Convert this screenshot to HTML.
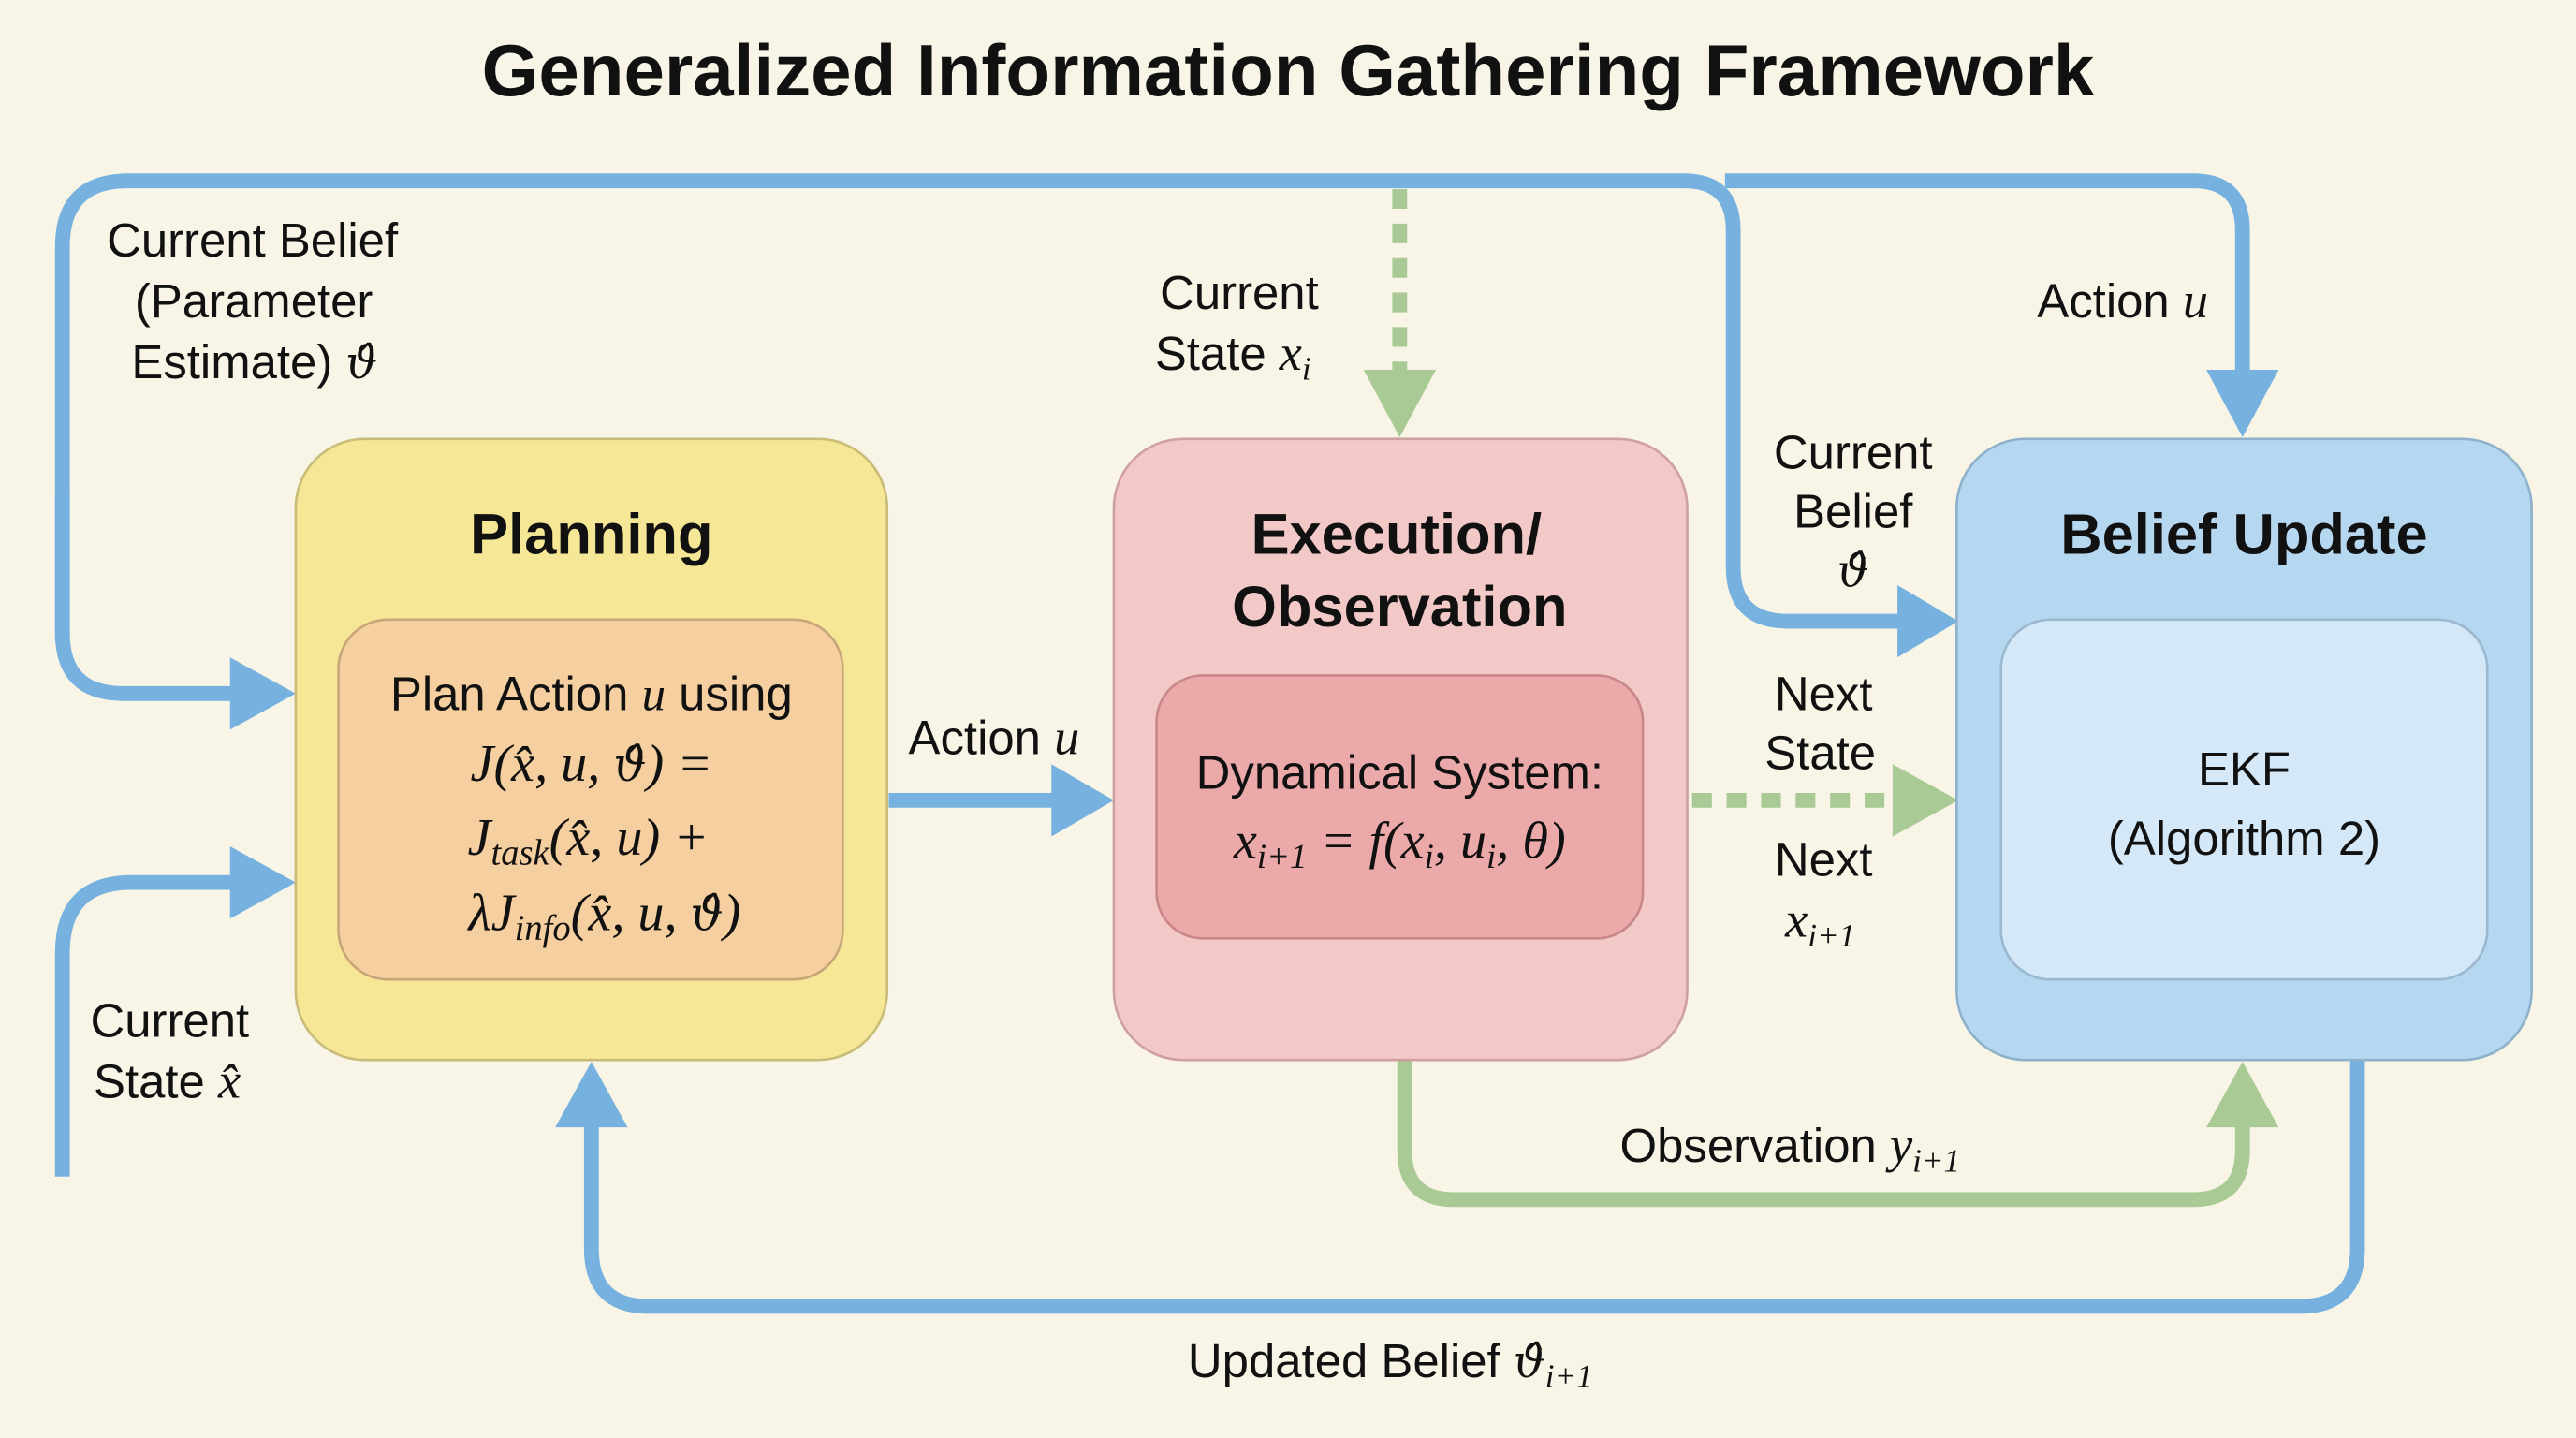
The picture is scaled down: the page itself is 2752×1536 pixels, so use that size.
<!DOCTYPE html>
<html><head><meta charset="utf-8"><style>
html,body{margin:0;padding:0;background:#f8f5e7;}
svg{display:block}
text{font-family:"Liberation Sans",sans-serif;fill:#111}
.m{font-family:"Liberation Serif",serif;font-style:italic}
.t{font-family:"DejaVu Serif",serif;font-style:italic}
</style></head><body>
<svg width="2752" height="1536" viewBox="0 0 1568 875" xmlns="http://www.w3.org/2000/svg">
<rect width="1568" height="875" fill="#f8f5e7"/>
<text x="784" y="58" text-anchor="middle" font-size="44.5" font-weight="bold">Generalized Information Gathering Framework</text>

<g fill="none" stroke="#76b1df" stroke-width="9" stroke-linecap="butt">
<path d="M38 390 V150 Q38 110 78 110 H1025 Q1055 110 1055 140 V345 Q1055 378 1088 378 H1160"/>
<path d="M1050 110 H1335 Q1365 110 1365 140 V230"/>
<path d="M38 300 V385 Q38 422 75 422 H145"/>
<path d="M38 716 V580 Q38 537 80 537 H145"/>
<path d="M541 487 H645"/>
<path d="M1435 645 V760 Q1435 795 1400 795 H395 Q360 795 360 760 V680"/>
</g>
<g fill="#76b1df">
<polygon points="140,400 180,422 140,444"/>
<polygon points="140,515 180,537 140,559"/>
<polygon points="640,465 678,487 640,509"/>
<polygon points="1155,356 1192,378 1155,400"/>
<polygon points="1343,225 1365,266 1387,225"/>
<polygon points="338,686 360,646 382,686"/>
</g>
<g fill="none" stroke="#a9c995" stroke-width="9">
<path d="M855 645 V700 Q855 730 885 730 H1335 Q1365 730 1365 700 V680"/>
<path d="M852 115 V230" stroke-dasharray="12 9"/>
<path d="M1030 487 H1160" stroke-dasharray="12 9"/>
</g>
<g fill="#a9c995">
<polygon points="1343,686 1365,646 1387,686"/>
<polygon points="830,225 852,266 874,225"/>
<polygon points="1152,465 1192,487 1152,509"/>
</g>

<rect x="180" y="267" width="360" height="378" rx="42" fill="#f5e795" stroke="#c9bc78" stroke-width="1.5"/>
<rect x="206" y="377" width="307" height="219" rx="30" fill="#f5cf9f" stroke="#c9a57a" stroke-width="1.5"/>
<rect x="678" y="267" width="349" height="378" rx="42" fill="#f3c9c8" stroke="#cfa0a0" stroke-width="1.5"/>
<rect x="704" y="411" width="296" height="160" rx="28" fill="#eba9a9" stroke="#c98787" stroke-width="1.5"/>
<rect x="1191" y="267" width="350" height="378" rx="42" fill="#b6d7f0" stroke="#8fb2cc" stroke-width="1.5"/>
<rect x="1218" y="377" width="296" height="219" rx="30" fill="#d4e8f7" stroke="#9ab8cf" stroke-width="1.5"/>

<g font-size="35" font-weight="bold" text-anchor="middle">
<text x="360" y="337">Planning</text>
<text x="850" y="337">Execution/</text>
<text x="852" y="381">Observation</text>
<text x="1366" y="337">Belief Update</text>
</g>
<g font-size="29" text-anchor="middle">
<text x="360" y="432">Plan Action <tspan class="m">u</tspan> using</text>
<text x="360" y="475" class="m" font-size="32">J(x̂, u, <tspan class="t" font-size="28">ϑ̂</tspan>) =</text>
<text x="358" y="520" class="m" font-size="32">J<tspan font-size="22" dy="6">task</tspan><tspan dy="-6">(x̂, u) +</tspan></text>
<text x="368" y="566" class="m" font-size="32">λJ<tspan font-size="22" dy="6">info</tspan><tspan dy="-6">(x̂, u, </tspan><tspan class="t" font-size="28">ϑ̂</tspan>)</text>
<text x="852" y="480">Dynamical System:</text>
<text x="852" y="522" class="m" font-size="32">x<tspan font-size="21" dy="6">i+1</tspan><tspan dy="-6"> = f(x</tspan><tspan font-size="21" dy="6">i</tspan><tspan dy="-6">, u</tspan><tspan font-size="21" dy="6">i</tspan><tspan dy="-6">, θ)</tspan></text>
<text x="1366" y="478">EKF</text>
<text x="1366" y="520">(Algorithm 2)</text>
</g>
<g font-size="29">
<text x="65" y="156">Current Belief</text>
<text x="82" y="193">(Parameter</text>
<text x="80" y="230">Estimate) <tspan class="t" font-size="27">ϑ̂</tspan></text>
<text x="706" y="188">Current</text>
<text x="703" y="225">State <tspan class="m" font-size="31">x<tspan font-size="20" dy="6">i</tspan></tspan></text>
<text x="1240" y="193">Action <tspan class="m" font-size="31">u</tspan></text>
<text x="1128" y="285" text-anchor="middle">Current</text>
<text x="1128" y="321" text-anchor="middle">Belief</text>
<text x="1128" y="357" text-anchor="middle" class="t" font-size="27">ϑ̂</text>
<text x="1110" y="432" text-anchor="middle">Next</text>
<text x="1108" y="468" text-anchor="middle">State</text>
<text x="1110" y="533" text-anchor="middle">Next</text>
<text x="1108" y="570" text-anchor="middle" class="m" font-size="31">x<tspan font-size="20" dy="6">i+1</tspan></text>
<text x="553" y="459">Action <tspan class="m" font-size="31">u</tspan></text>
<text x="55" y="631">Current</text>
<text x="57" y="668">State <tspan class="m" font-size="31">x̂</tspan></text>
<text x="986" y="707">Observation <tspan class="m" font-size="31">y<tspan font-size="20" dy="6">i+1</tspan></tspan></text>
<text x="723" y="838">Updated Belief <tspan class="t" font-size="27">ϑ̂</tspan><tspan class="m" font-size="20" dy="6">i+1</tspan></text>
</g>
</svg>
</body></html>
